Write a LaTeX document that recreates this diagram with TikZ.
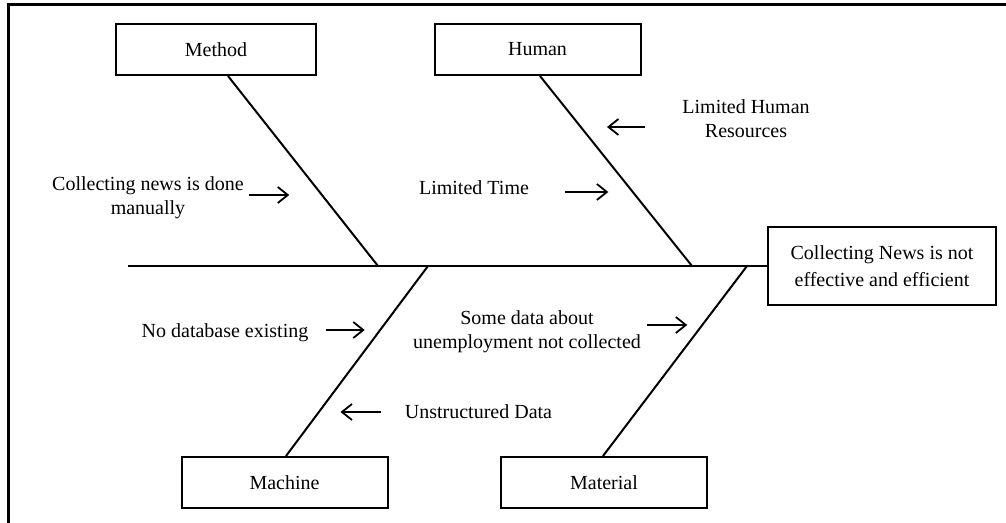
\documentclass[tikz,border=0pt]{standalone}
\usepackage{fontspec}
\setmainfont{Liberation Serif}
\usetikzlibrary{positioning, calc, arrows.meta}
\tikzstyle{block} = [draw, line width=1pt, fill=white, minimum width=103pt,
        minimum height=25.5pt]
\tikzstyle{cause} = [align=center, inner sep=0pt]
\tikzset{bone/.style={line width=1pt},
    arr/.style={line width=0.9pt, -{Straight Barb[length=5pt,width=8pt]}}
}

\begin{document}
\begin{tikzpicture}[x=0.5pt, y=-0.5pt, font=\fontsize{10pt}{12pt}\selectfont]
    \useasboundingbox (0,0) rectangle (1006,523);
    % frame
    \draw[line width=1.5pt] (8,523) -- (8,5) -- (1006,5);

    \node [block, minimum width=100pt] (Method) at (216,49.5) {Method};
    \node [block, right of=Method, node distance=160.75pt] (Human) {Human};
    \node [block] (Machine) at (284.5,482.5) {Machine};
    \node [block, right of=Machine, node distance=159.75pt] (Material) {Material};
    \node [block, align=center, minimum width=114pt, minimum height=39pt] (Effect) at (882,266)
        {Collecting News is not\\[1.5pt]effective and efficient};

    % spine and bones
    \coordinate (tail) at (128,266);
    \coordinate (mFoot) at (378,266);
    \coordinate (hFoot) at (692,266);
    \coordinate (maFoot) at (428,266);
    \coordinate (mtFoot) at (747,266);
    \draw[bone] (tail) -- (Effect.west);
    \draw[bone] ($(Method.south)+(12,0)$) -- (mFoot);
    \draw[bone] ($(Human.south)+(2.5,0)$) -- (hFoot);
    \draw[bone] ($(Machine.north)+(1.5,0)$) -- (maFoot);
    \draw[bone] ($(Material.north)+(-1,0)$) -- (mtFoot);

    % causes
    \node [cause] (manual) at (148,197.5) {Collecting news is done\\manually};
    \node [cause] (time) at (474,188) {Limited Time};
    \node [cause] (staff) at (746,119) {Limited Human\\Resources};
    \node [cause] (nodb) at (225,333) {No database existing};
    \node [cause] (somedata) at (527,331.5) {Some data about\\unemployment not collected};
    \node [cause] (unstruct) at (478.5,412) {Unstructured Data};

    \draw[arr] ($(manual.east)+(5,-2.5)$) -- ++(40,0);
    \draw[arr] ($(time.east)+(36,4)$) -- ++(43,0);
    \draw[arr] ($(staff.west)+(-37,8)$) -- ++(-38,0);
    \draw[arr] ($(nodb.east)+(17,-3)$) -- ++(39,0);
    \draw[arr] ($(somedata.east)+(6,-6.5)$) -- ++(40,0);
    \draw[arr] ($(unstruct.west)+(-24,0)$) -- ++(-40,0);
\end{tikzpicture}
\end{document}
